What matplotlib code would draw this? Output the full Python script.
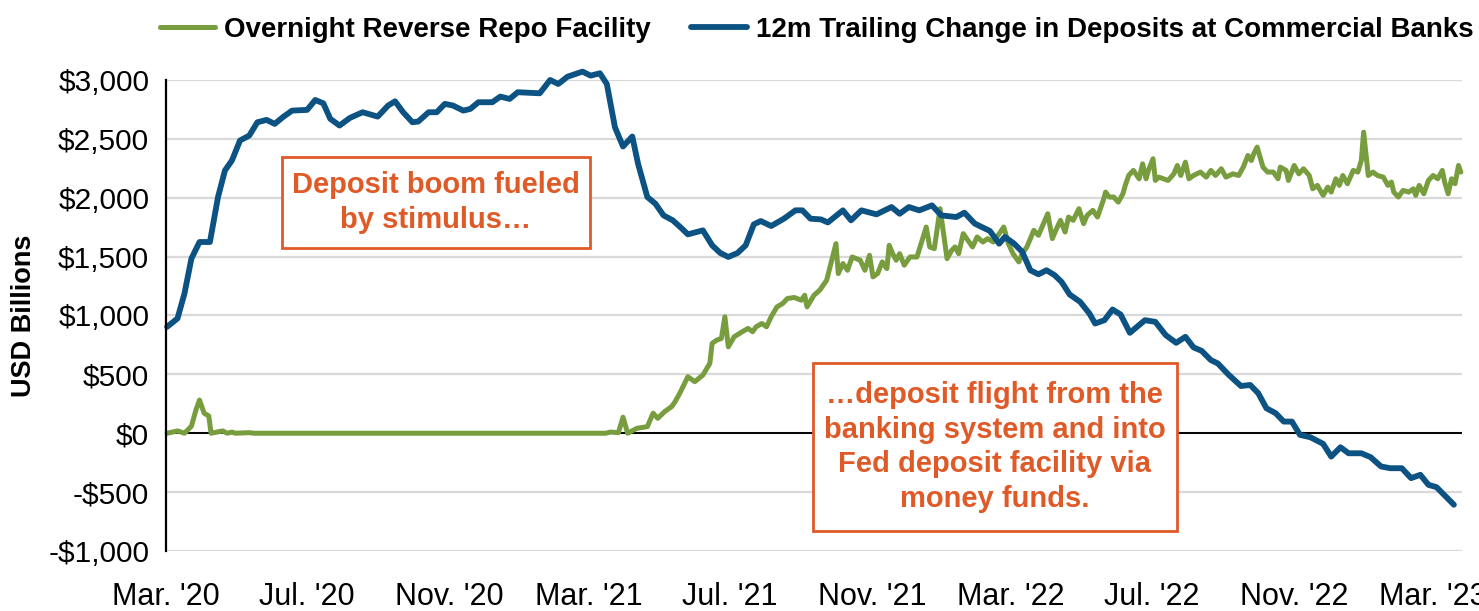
import matplotlib
matplotlib.use("Agg")
import matplotlib.pyplot as plt
import matplotlib.dates as mdates
from matplotlib import font_manager
from matplotlib.patches import Rectangle
from matplotlib.ticker import FuncFormatter, MultipleLocator
import pandas as pd

# Narrow face if we have one, Liberation Sans (Arial metrics) otherwise
installed = {f.name for f in font_manager.fontManager.ttflist}
if "Liberation Sans Narrow" in installed:
    plt.rcParams["font.family"] = ["Liberation Sans Narrow", "DejaVu Sans"]
else:
    plt.rcParams["font.family"] = ["Liberation Sans", "DejaVu Sans"]

# 12m trailing change in deposits at commercial banks (USD bn, weekly)
deposit_dates = [
    "2020-03-02", "2020-03-11", "2020-03-17", "2020-03-23", "2020-03-30", "2020-04-08",
    "2020-04-15", "2020-04-21", "2020-04-27", "2020-05-04", "2020-05-12", "2020-05-19",
    "2020-05-27", "2020-06-03", "2020-06-10", "2020-06-18", "2020-07-01", "2020-07-08",
    "2020-07-15", "2020-07-21", "2020-07-29", "2020-08-07", "2020-08-18", "2020-08-31",
    "2020-09-09", "2020-09-15", "2020-09-22", "2020-09-30", "2020-10-05", "2020-10-14",
    "2020-10-21", "2020-10-28", "2020-11-04", "2020-11-13", "2020-11-19", "2020-11-26",
    "2020-12-08", "2020-12-15", "2020-12-23", "2020-12-30", "2021-01-18", "2021-01-27",
    "2021-02-03", "2021-02-11", "2021-02-24", "2021-03-03", "2021-03-11", "2021-03-17",
    "2021-03-24", "2021-03-31", "2021-04-08", "2021-04-13", "2021-04-21", "2021-04-28",
    "2021-05-05", "2021-05-13", "2021-05-21", "2021-05-26", "2021-06-08", "2021-06-16",
    "2021-06-23", "2021-06-30", "2021-07-08", "2021-07-15", "2021-07-22", "2021-07-28",
    "2021-08-06", "2021-08-17", "2021-08-27", "2021-09-02", "2021-09-09", "2021-09-18",
    "2021-09-24", "2021-10-07", "2021-10-14", "2021-10-23", "2021-11-05", "2021-11-18",
    "2021-11-25", "2021-12-03", "2021-12-12", "2021-12-23", "2021-12-31", "2022-01-13",
    "2022-01-20", "2022-01-29", "2022-02-11", "2022-02-19", "2022-02-24", "2022-03-04",
    "2022-03-11", "2022-03-18", "2022-03-25", "2022-04-01", "2022-04-08", "2022-04-14",
    "2022-04-21", "2022-04-30", "2022-05-08", "2022-05-13", "2022-05-21", "2022-05-28",
    "2022-06-04", "2022-06-12", "2022-06-25", "2022-07-04", "2022-07-13", "2022-07-22",
    "2022-07-30", "2022-08-06", "2022-08-13", "2022-08-21", "2022-08-27", "2022-09-05",
    "2022-09-16", "2022-09-24", "2022-10-01", "2022-10-08", "2022-10-16", "2022-10-23",
    "2022-10-30", "2022-11-06", "2022-11-15", "2022-11-26", "2022-12-03", "2022-12-11",
    "2022-12-18", "2022-12-29", "2023-01-06", "2023-01-15", "2023-01-23", "2023-02-02",
    "2023-02-10", "2023-02-18", "2023-02-25", "2023-03-04", "2023-03-19",
]
deposit_change = [
    904, 975, 1186, 1483, 1624, 1624,
    2006, 2232, 2316, 2486, 2528, 2641,
    2661, 2627, 2684, 2740, 2746, 2830,
    2802, 2670, 2613, 2678, 2726, 2689,
    2783, 2819, 2726, 2641, 2647, 2726,
    2726, 2797, 2783, 2740, 2754, 2811,
    2811, 2859, 2839, 2896, 2887, 3000,
    2966, 3028, 3071, 3037, 3057, 2966,
    2599, 2435, 2520, 2288, 2006, 1949,
    1850, 1808, 1737, 1689, 1723, 1596,
    1531, 1497, 1531, 1596, 1774, 1802,
    1760, 1822, 1893, 1893, 1822, 1816,
    1790, 1893, 1808, 1893, 1859, 1921,
    1864, 1921, 1893, 1935, 1850, 1836,
    1873, 1780, 1718, 1610, 1667, 1610,
    1540, 1384, 1350, 1384, 1342, 1285,
    1178, 1116, 1017, 932, 960, 1051,
    1008, 853, 960, 946, 833, 768,
    819, 729, 700, 621, 593, 500,
    401, 410, 339, 212, 170, 99,
    99, -14, -34, -90, -198, -119,
    -170, -170, -203, -282, -297, -297,
    -381, -353, -438, -458, -607,
]

# Overnight reverse repo facility usage (USD bn, daily, thinned)
rrp_dates = [
    "2020-03-02", "2020-03-11", "2020-03-17", "2020-03-23", "2020-03-27", "2020-03-30",
    "2020-04-03", "2020-04-07", "2020-04-09", "2020-04-19", "2020-04-23", "2020-04-27",
    "2020-04-30", "2020-05-12", "2020-05-16", "2021-03-16", "2021-03-20", "2021-03-27",
    "2021-03-31", "2021-04-04", "2021-04-12", "2021-04-21", "2021-04-26", "2021-04-30",
    "2021-05-06", "2021-05-12", "2021-05-15", "2021-05-19", "2021-05-26", "2021-06-01",
    "2021-06-08", "2021-06-14", "2021-06-16", "2021-06-20", "2021-06-24", "2021-06-27",
    "2021-06-30", "2021-07-05", "2021-07-12", "2021-07-17", "2021-07-21", "2021-07-24",
    "2021-07-29", "2021-08-02", "2021-08-06", "2021-08-11", "2021-08-16", "2021-08-20",
    "2021-08-26", "2021-09-01", "2021-09-04", "2021-09-06", "2021-09-12", "2021-09-17",
    "2021-09-19", "2021-09-23", "2021-10-01", "2021-10-03", "2021-10-07", "2021-10-11",
    "2021-10-15", "2021-10-22", "2021-10-26", "2021-10-30", "2021-11-02", "2021-11-06",
    "2021-11-10", "2021-11-14", "2021-11-16", "2021-11-19", "2021-11-22", "2021-11-25",
    "2021-11-29", "2021-12-04", "2021-12-10", "2021-12-14", "2021-12-18", "2021-12-21",
    "2021-12-25", "2021-12-30", "2022-01-02", "2022-01-05", "2022-01-09", "2022-01-12",
    "2022-01-15", "2022-01-19", "2022-01-23", "2022-01-27", "2022-01-31", "2022-02-05",
    "2022-02-09", "2022-02-14", "2022-02-18", "2022-02-23", "2022-02-27", "2022-03-03",
    "2022-03-08", "2022-03-11", "2022-03-15", "2022-03-21", "2022-03-25", "2022-04-02",
    "2022-04-06", "2022-04-09", "2022-04-13", "2022-04-17", "2022-04-20", "2022-04-24",
    "2022-04-29", "2022-05-03", "2022-05-06", "2022-05-11", "2022-05-15", "2022-05-20",
    "2022-05-22", "2022-05-25", "2022-05-29", "2022-06-02", "2022-06-06", "2022-06-08",
    "2022-06-11", "2022-06-15", "2022-06-20", "2022-06-23", "2022-06-26", "2022-06-28",
    "2022-07-02", "2022-07-04", "2022-07-07", "2022-07-15", "2022-07-20", "2022-07-23",
    "2022-07-26", "2022-07-30", "2022-08-02", "2022-08-06", "2022-08-12", "2022-08-17",
    "2022-08-21", "2022-08-25", "2022-08-30", "2022-09-03", "2022-09-09", "2022-09-14",
    "2022-09-18", "2022-09-22", "2022-09-25", "2022-09-27", "2022-09-30", "2022-10-05",
    "2022-10-09", "2022-10-14", "2022-10-18", "2022-10-20", "2022-10-25", "2022-10-27",
    "2022-11-01", "2022-11-05", "2022-11-09", "2022-11-14", "2022-11-17", "2022-11-21",
    "2022-11-26", "2022-11-30", "2022-12-03", "2022-12-07", "2022-12-10", "2022-12-13",
    "2022-12-17", "2022-12-22", "2022-12-26", "2022-12-29", "2022-12-31", "2023-01-04",
    "2023-01-08", "2023-01-12", "2023-01-17", "2023-01-21", "2023-01-24", "2023-01-26",
    "2023-01-30", "2023-02-03", "2023-02-08", "2023-02-12", "2023-02-14", "2023-02-17",
    "2023-02-21", "2023-02-25", "2023-03-01", "2023-03-05", "2023-03-09", "2023-03-11",
    "2023-03-14", "2023-03-17", "2023-03-20", "2023-03-23", "2023-03-25",
]
rrp_values = [
    0, 20, 0, 60, 200, 282,
    170, 147, 0, 20, 0, 10,
    0, 5, 0, 0, 10, 5,
    136, 0, 42, 56, 170, 127,
    184, 226, 268, 339, 480, 438,
    494, 593, 763, 791, 805, 989,
    734, 819, 862, 890, 862, 904,
    932, 904, 989, 1073, 1102, 1144,
    1153, 1130, 1172, 1073, 1172, 1215,
    1243, 1300, 1610, 1356, 1441, 1384,
    1497, 1469, 1384, 1511, 1328, 1356,
    1455, 1398, 1596, 1525, 1469, 1525,
    1427, 1497, 1497, 1624, 1751, 1582,
    1568, 1907, 1695, 1483, 1554, 1582,
    1525, 1695, 1639, 1582, 1667, 1624,
    1653, 1624, 1681, 1751, 1610, 1525,
    1455, 1525, 1582, 1723, 1681, 1864,
    1653, 1723, 1808, 1709, 1836, 1808,
    1907, 1780, 1850, 1893, 1836, 1978,
    2048, 2006, 2006, 1963, 2034, 2105,
    2189, 2232, 2161, 2288, 2161, 2232,
    2331, 2147, 2175, 2147, 2203, 2274,
    2189, 2302, 2161, 2189, 2218, 2175,
    2232, 2189, 2246, 2175, 2203, 2189,
    2260, 2359, 2316, 2373, 2430, 2260,
    2218, 2218, 2161, 2260, 2232, 2147,
    2274, 2203, 2246, 2189, 2076, 2105,
    2020, 2090, 2048, 2161, 2105, 2189,
    2119, 2232, 2218, 2316, 2557, 2189,
    2218, 2189, 2175, 2105, 2133, 2048,
    2006, 2062, 2048, 2076, 2020, 2105,
    2034, 2147, 2189, 2161, 2232, 2133,
    2034, 2161, 2119, 2274, 2218,
]

series_labels = ["Overnight Reverse Repo Facility",
                 "12m Trailing Change in Deposits at Commercial Banks"]
note_boom = "Deposit boom fueled\nby stimulus\u2026"
note_flight = ("\u2026deposit flight from the\nbanking system and into\n"
               "Fed deposit facility via\nmoney funds.")

green = "#789d3f"
blue = "#0c5282"
orange = "#e05a28"

fig = plt.figure(figsize=(14.79, 6.11), dpi=100)
ax = fig.add_axes([0.1122, 0.0982, 0.8763, 0.7709])

ax.plot(pd.to_datetime(rrp_dates), rrp_values, color=green, lw=3.6, clip_on=False,
        solid_joinstyle="round", solid_capstyle="round", label=series_labels[0], zorder=2)
ax.plot(pd.to_datetime(deposit_dates), deposit_change, color=blue, lw=4.2, clip_on=False,
        solid_joinstyle="round", solid_capstyle="round", label=series_labels[1], zorder=2.1)

ax.set_ylim(-1000, 3000)
ax.set_xlim(pd.Timestamp("2020-03-01"), pd.Timestamp("2023-03-26"))
ax.yaxis.set_major_locator(MultipleLocator(500))
ax.yaxis.set_major_formatter(FuncFormatter(
    lambda v, _: f"-${abs(v):,.0f}" if v < 0 else f"${v:,.0f}"))
ax.xaxis.set_major_locator(mdates.MonthLocator(bymonth=[3, 7, 11]))
ax.xaxis.set_major_formatter(FuncFormatter(
    lambda v, _: mdates.num2date(v).strftime("%b. '%y")))

ax.yaxis.grid(True, color="#d9d9d9", lw=1.6)
ax.set_axisbelow(True)
ax.axhline(0, color="black", lw=1.4, zorder=1)

for side in ["top", "right", "bottom"]:
    ax.spines[side].set_visible(False)
ax.spines["left"].set_linewidth(1.6)
ax.tick_params(axis="x", length=0, pad=22, labelsize=22)
ax.tick_params(axis="y", length=0, pad=12, labelsize=21.5)

ax.set_ylabel("USD Billions", fontsize=19.5, fontweight="bold")
ax.yaxis.set_label_coords(-0.0995, 0.5)

# annotation boxes
ax.add_patch(Rectangle((0.0895, 0.643), 0.2375, 0.1935, transform=ax.transAxes,
                       facecolor="white", edgecolor=orange, lw=2.0, zorder=3))
ax.text(0.208, 0.740, note_boom, transform=ax.transAxes, ha="center", va="center",
        color=orange, fontsize=21, fontweight="bold", linespacing=1.3, zorder=4)

ax.add_patch(Rectangle((0.499, 0.0425), 0.281, 0.3565, transform=ax.transAxes,
                       facecolor="white", edgecolor=orange, lw=2.0, zorder=3))
ax.text(0.6395, 0.221, note_flight, transform=ax.transAxes, ha="center", va="center",
        color=orange, fontsize=21, fontweight="bold", linespacing=1.3, zorder=4)

fig.legend(loc="center", bbox_to_anchor=(0.552, 0.951), ncol=2, frameon=False,
           prop={"weight": "bold", "size": 20}, handlelength=2.0,
           handletextpad=0.32, columnspacing=1.45)

fig.savefig("out.png", dpi=100)
